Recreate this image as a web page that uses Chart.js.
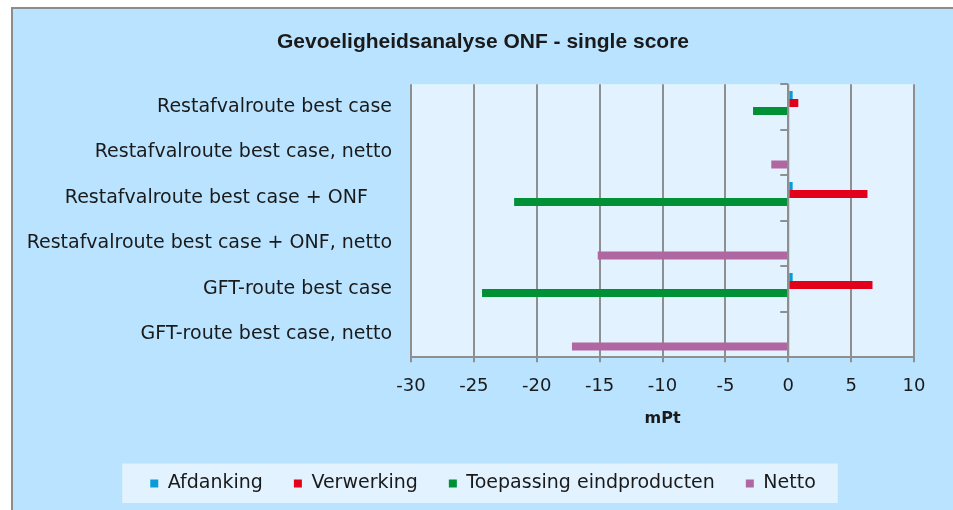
<!DOCTYPE html>
<html>
<head>
<meta charset="utf-8">
<script src="https://cdn.jsdelivr.net/npm/chart.js@4"></script>
<style>
  html, body { margin: 0; padding: 0; background: #ffffff; overflow: hidden; }
  #frame {
    position: absolute; left: 11px; top: 7px;
    width: 942px; height: 503px;
    border-left: 2px solid #8c8c8c; border-top: 2px solid #8c8c8c;
    box-sizing: border-box; background: #b9e3ff; overflow: hidden;
  }
  canvas { display: block; }
</style>
</head>
<body>
<div id="frame"><canvas id="myChart" width="940" height="494"></canvas></div>
<script>
// categories, top to bottom
const categories = [
    "Restafvalroute best case",
    "Restafvalroute best case, netto",
    "Restafvalroute best case + ONF    ",
    "Restafvalroute best case + ONF, netto",
    "GFT-route best case",
    "GFT-route best case, netto"
];
// mPt per stage
const afdanking = [0.35, null, 0.35, null, 0.35, null];
const verwerking = [0.8, null, 6.3, null, 6.7, null];
const toepassing = [-2.8, null, -21.8, null, -24.35, null];
const netto = [null, -1.35, null, -15.15, null, -17.2];

const xTicks = [-30, -25, -20, -15, -10, -5, 0, 5, 10];

const gridColor = '#8f8f8f';
const textColor = '#1a1a1a';

// light plot area + box behind the legend
const backdrop = {
    id: 'backdrop',
    beforeDraw(chart) {
        const ctx = chart.ctx;
        const a = chart.chartArea;
        ctx.save();
        ctx.fillStyle = '#e2f3ff';
        ctx.fillRect(a.left, a.top, a.right - a.left, a.bottom - a.top);
        const boxes = chart.legend.legendHitBoxes;
        if (boxes && boxes.length) {
            var minX = boxes[0].left, maxX = 0;
            boxes.forEach(b => { minX = Math.min(minX, b.left); maxX = Math.max(maxX, b.left + b.width); });
            const cy = boxes[0].top + boxes[0].height / 2;
            ctx.fillRect(minX - 28, cy - 20, maxX - minX + 50, 40);
        }
        ctx.restore();
    }
};

// vertical axis at zero with ticks between categories
const zeroAxis = {
    id: 'zeroAxis',
    afterDatasetsDraw(chart) {
        const ctx = chart.ctx;
        const a = chart.chartArea;
        const x0 = chart.scales.x.getPixelForValue(0);
        const y = chart.scales.y;
        const step = y.getPixelForValue(1) - y.getPixelForValue(0);
        ctx.save();
        ctx.strokeStyle = gridColor;
        ctx.lineWidth = 2;
        ctx.beginPath();
        ctx.moveTo(x0, a.top);
        ctx.lineTo(x0, a.bottom);
        for (let i = 0; i < categories.length; i++) {
            const yy = Math.round(y.getPixelForValue(i) - step / 2);
            ctx.moveTo(x0 - 8, yy);
            ctx.lineTo(x0, yy);
        }
        ctx.stroke();
        ctx.restore();
    }
};

new Chart(document.getElementById('myChart'), {
    type: 'bar',
    data: {
        labels: categories,
        datasets: [
            { label: 'Afdanking', data: afdanking, backgroundColor: '#0a9ad6' },
            { label: 'Verwerking', data: verwerking, backgroundColor: '#e3001b' },
            { label: 'Toepassing eindproducten', data: toepassing, backgroundColor: '#009035' },
            { label: 'Netto', data: netto, backgroundColor: '#b067a1' }
        ]
    },
    options: {
        indexAxis: 'y',
        responsive: false,
        devicePixelRatio: 1,
        animation: false,
        categoryPercentage: 0.706,
        barPercentage: 1,
        layout: { padding: 0 },
        plugins: {
            title: {
                display: true,
                text: 'Gevoeligheidsanalyse ONF - single score',
                color: textColor,
                font: { family: 'Liberation Sans', size: 21, weight: 'bold' },
                padding: { top: 21, bottom: 29 }
            },
            legend: {
                position: 'bottom',
                labels: {
                    boxWidth: 8,
                    boxHeight: 8,
                    padding: 31,
                    color: textColor,
                    font: { family: 'DejaVu Sans', size: 19 }
                }
            },
            tooltip: { enabled: false }
        },
        scales: {
            x: {
                type: 'linear',
                min: -30,
                max: 10,
                afterBuildTicks: (s) => { s.ticks = xTicks.map(v => ({ value: v })); },
                // keep 39px free on the right, title/legend stay centred on the full width
                afterFit: (s) => { s.paddingRight = 39; },
                grid: { color: gridColor, lineWidth: 2, tickLength: 5 },
                border: { display: true, color: gridColor, width: 2 },
                ticks: {
                    color: textColor,
                    padding: 13,
                    font: { family: 'DejaVu Sans', size: 18 }
                },
                title: {
                    display: true,
                    text: 'mPt',
                    color: textColor,
                    font: { family: 'DejaVu Sans', size: 16, weight: 'bold' },
                    padding: { top: -1, bottom: 15 }
                }
            },
            y: {
                grid: { display: false, drawTicks: false },
                border: { display: false },
                afterFit: (s) => { s.width = 398; },
                ticks: {
                    autoSkip: false,
                    color: textColor,
                    padding: 19,
                    font: { family: 'DejaVu Sans', size: 19 }
                }
            }
        }
    },
    plugins: [backdrop, zeroAxis]
});
</script>
</body>
</html>
